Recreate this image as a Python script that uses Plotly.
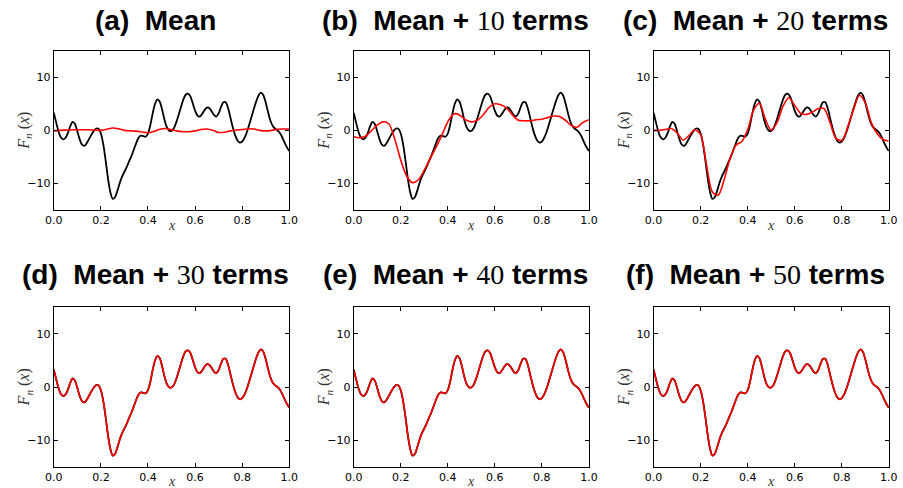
import plotly.graph_objects as go

# ---------------- data ----------------
x_black = [round(i * 0.01, 2) for i in range(101)]
black = [3.3, 1.5, -0.2, -1.3, -1.7, -1.4, -0.5, 0.8, 1.6, 1.2,
         -0.2, -1.7, -2.7, -2.9, -2.4, -1.6, -0.8, -0.1, 0.35, 0.3,
         -0.6, -2.6, -5.6, -9.0, -11.6, -12.9, -12.6, -11.4, -9.9, -8.7,
         -7.8, -6.9, -5.8, -4.8, -3.6, -2.4, -1.4, -1.0, -1.1, -1.2,
         -0.6, 1.0, 3.2, 5.0, 5.85, 5.4, 3.9, 2.0, 0.6, -0.05,
         -0.1, 0.4, 1.5, 2.9, 4.4, 5.8, 6.7, 6.9, 6.4, 5.1,
         3.7, 2.8, 2.6, 3.1, 3.8, 4.3, 4.2, 3.6, 2.9, 2.6,
         3.2, 4.4, 5.3, 5.3, 4.2, 2.4, 0.6, -0.9, -1.9, -2.3,
         -2.1, -1.4, -0.3, 1.1, 2.6, 4.1, 5.5, 6.6, 7.1, 6.6,
         5.2, 3.4, 1.8, 0.8, 0.3, 0.0, -0.5, -1.3, -2.3, -3.2,
         -3.9]

x_red = [round(i * 0.025, 3) for i in range(41)]
red_a = [-0.1, 0.0, 0.05, 0.1, 0.1, 0.1, 0.1, 0.05, 0.0, 0.2,
         0.45, 0.3, 0.0, -0.1, -0.15, -0.3, -0.45, -0.2, 0.2, 0.35,
         0.1, -0.15, -0.25, -0.25, -0.1, 0.15, 0.25, 0.0, -0.4, -0.35,
         -0.1, 0.05, 0.15, 0.3, 0.25, 0.0, -0.1, 0.0, 0.2, 0.25,
         0.25]
red_b = [-1.2, -1.4, -1.1, -0.1, 1.0, 1.6, 1.2, -1.7, -5.6, -8.6,
         -9.85, -9.3, -7.5, -5.3, -3.2, -0.9, 1.6, 3.1, 2.9, 2.0,
         1.6, 1.9, 2.9, 4.3, 5.0, 4.8, 4.2, 2.9, 1.9, 1.8,
         1.8, 2.0, 2.1, 2.4, 2.7, 2.6, 1.9, 0.9, 0.6, 1.5,
         2.0]
red_c = [0.0, 0.0, 0.15, 0.35, -0.5, -1.8, -1.0, 0.1, -0.8, -6.5,
         -11.6, -12.2, -9.3, -5.3, -2.8, -2.1, 0.1, 3.8, 5.1, 2.1,
         0.0, 1.5, 4.5, 6.2, 4.7, 3.2, 3.0, 3.4, 4.1, 4.1,
         1.5, -1.5, -1.9, 0.6, 3.9, 6.6, 5.2, 1.5, -0.6, -1.7,
         -2.0]
# (d), (e), (f): the partial sums lie on top of the black curve
red_def = black

panel_labels = ["(a)", "(b)", "(c)", "(d)", "(e)", "(f)"]
panel_terms = [None, "10", "20", "30", "40", "50"]
x_ticks = [0.0, 0.2, 0.4, 0.6, 0.8, 1.0]
y_ticks = [-10, 0, 10]

reds = [(x_red, red_a), (x_red, red_b), (x_red, red_c),
        (x_black, red_def), (x_black, red_def), (x_black, red_def)]

# ---------------- layout geometry ----------------
W, H = 903, 488
col_px = [(45.7, 286.0), (351.7, 591.7), (657.7, 897.7)]
row_px = [(50.7, 210.0), (307.3, 466.7)]

fig = go.Figure()
layout = dict(width=W, height=H, margin=dict(l=0, r=0, t=0, b=0),
              paper_bgcolor="white", plot_bgcolor="white", showlegend=False)
annotations = []

for k in range(6):
    r, c = divmod(k, 3)
    n = "" if k == 0 else str(k + 1)
    x0, x1 = col_px[c]
    y0, y1 = row_px[r]
    xd = [x0 / W, x1 / W]
    yd = [1 - y1 / H, 1 - y0 / H]
    axis_common = dict(showline=True, linecolor="black", linewidth=1, mirror="allticks",
                       ticks="inside", ticklen=4, tickwidth=1, tickcolor="black",
                       showgrid=False, zeroline=False,
                       tickfont=dict(family="DejaVu Sans", size=11, color="black"))
    layout["xaxis" + n] = dict(domain=xd, anchor="y" + n, range=[0, 1], tickvals=x_ticks,
                               tickformat=".1f", **axis_common)
    layout["yaxis" + n] = dict(domain=yd, anchor="x" + n, range=[-15, 15], tickvals=y_ticks,
                               **axis_common)
    fig.add_trace(go.Scatter(x=x_black, y=black, mode="lines", xaxis="x" + n, yaxis="y" + n,
                             line=dict(color="black", width=1.8, shape="spline", smoothing=0.8)))
    rx, ry = reds[k]
    fig.add_trace(go.Scatter(x=rx, y=ry, mode="lines", xaxis="x" + n, yaxis="y" + n,
                             line=dict(color="#ff0000", width=1.6, shape="spline", smoothing=0.8)))

    # title
    if panel_terms[k] is None:
        ttl = "<b>%s  Mean</b>" % panel_labels[k]
    else:
        ttl = ("<b>%s  Mean + </b><span style=\"font-family:'Liberation Serif';\">%s</span><b> terms</b>"
               % (panel_labels[k], panel_terms[k]))
    cx = (x0 + x1) / 2 - 16
    cy = 20 if r == 0 else 274
    annotations.append(dict(text=ttl, x=cx / W, y=1 - cy / H, xref="paper", yref="paper",
                            xanchor="center", yanchor="middle", showarrow=False,
                            font=dict(family="Liberation Sans", size=28, color="black")))
    # x label
    annotations.append(dict(text="<i>x</i>", x=(x0 + x1) / 2 / W, y=1 - (y1 + 15) / H,
                            xref="paper", yref="paper", xanchor="center", yanchor="middle",
                            showarrow=False,
                            font=dict(family="Liberation Serif", size=14, color="#333333")))
    # y label
    annotations.append(dict(text="<i>F</i><sub><i>n</i></sub> (<i>x</i>)", x=(x0 - 30) / W,
                            y=1 - ((y0 + y1) / 2) / H, xref="paper", yref="paper",
                            xanchor="center", yanchor="middle", textangle=-90, showarrow=False,
                            font=dict(family="Liberation Serif", size=16, color="#333333")))

layout["annotations"] = annotations
fig.update_layout(**layout)
fig.write_html("out.html")
